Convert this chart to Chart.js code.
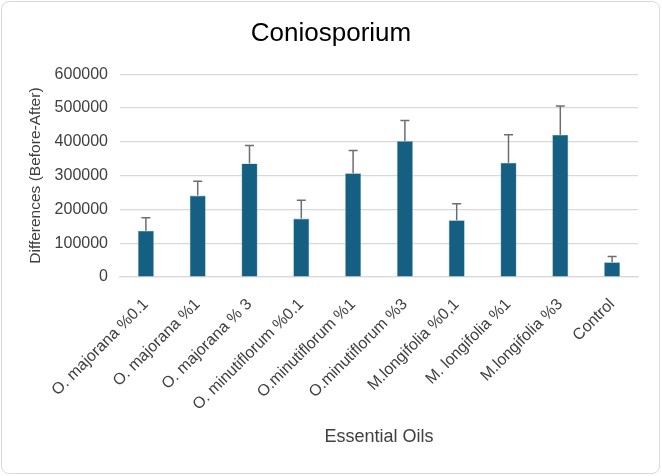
<!DOCTYPE html>
<html>
<head>
<meta charset="utf-8">
<script src="https://cdn.jsdelivr.net/npm/chart.js@4.4.1/dist/chart.umd.min.js"></script>
<style>
  html, body { margin: 0; padding: 0; background: #fff; }
  canvas { position: absolute; left: 0; top: 0; }
  #frame {
    position: absolute; left: 1px; top: 1px; width: 659px; height: 473px;
    border: 1px solid #d9d9d9; border-radius: 8px; box-sizing: border-box;
  }
</style>
</head>
<body>
<canvas id="chart" width="662" height="476"></canvas>
<div id="frame"></div>
<script>
// data
const categories = ['O. majorana %0.1', 'O. majorana %1', 'O. majorana % 3', 'O. minutiflorum %0.1',
  'O.minutiflorum %1', 'O.minutiflorum %3', 'M.longifolia %0,1', 'M. longifolia %1', 'M.longifolia %3', 'Control'];
const means = [137000, 241000, 336000, 173000, 307000, 402000, 168000, 338000, 421000, 44000];
const errors = [38000, 42000, 53000, 54000, 67000, 61000, 49000, 83000, 85000, 17000];
const yTicks = [0, 100000, 200000, 300000, 400000, 500000, 600000];

const font = "'Liberation Sans', Arial, sans-serif";

// upper error bars, drawn from the scales
const errorBars = {
  id: 'errorBars',
  afterDatasetsDraw(chart) {
    const ctx = chart.ctx;
    const y = chart.scales.y;
    const meta = chart.getDatasetMeta(0);
    ctx.save();
    ctx.strokeStyle = '#6e6e6e';
    ctx.lineWidth = 1.5;
    meta.data.forEach((bar, i) => {
      const top = y.getPixelForValue(means[i] + errors[i]);
      const base = y.getPixelForValue(means[i]);
      ctx.beginPath();
      ctx.moveTo(bar.x, base);
      ctx.lineTo(bar.x, top);
      ctx.moveTo(bar.x - 4.5, top);
      ctx.lineTo(bar.x + 4.5, top);
      ctx.stroke();
    });
    ctx.restore();
  }
};

new Chart(document.getElementById('chart'), {
  type: 'bar',
  data: {
    labels: categories,
    datasets: [{
      data: means,
      backgroundColor: '#156082',
      borderColor: '#7fa8c0',
      borderWidth: 0.6,
      categoryPercentage: 1,
      barPercentage: 0.31
    }]
  },
  options: {
    responsive: false,
    animation: false,
    layout: { padding: { left: 24, right: 24, top: 0, bottom: 28 } },
    plugins: {
      legend: { display: false },
      tooltip: { enabled: false },
      title: {
        display: true,
        text: 'Coniosporium',
        color: '#000',
        font: { family: font, size: 26, weight: 'normal', lineHeight: 1.2 },
        padding: { top: 18, bottom: 25 }
      }
    },
    scales: {
      y: {
        min: 0,
        max: 600000,
        afterBuildTicks(axis) { axis.ticks = yTicks.map(v => ({ value: v })); },
        afterFit(axis) { axis.width = 96; },
        grid: { color: '#d9d9d9', lineWidth: 1.2, drawTicks: false },
        border: { display: false },
        ticks: {
          color: '#404040',
          font: { family: font, size: 16 },
          padding: 12,
          callback: v => String(v)
        },
        title: {
          display: true,
          text: 'Differences (Before-After)',
          color: '#404040',
          font: { family: font, size: 15.5 },
          padding: { top: 2, bottom: 0 }
        }
      },
      x: {
        afterFit(axis) { axis.height = 171; },
        grid: { display: false },
        border: { color: '#d9d9d9', width: 1.2 },
        ticks: {
          color: '#404040',
          font: { family: font, size: 16 },
          maxRotation: 45,
          minRotation: 45,
          padding: 10
        },
        title: {
          display: true,
          text: 'Essential Oils',
          color: '#404040',
          font: { family: font, size: 18, lineHeight: 1.2 },
          padding: { top: 0, bottom: 0 }
        }
      }
    }
  },
  plugins: [errorBars]
});
</script>
</body>
</html>
